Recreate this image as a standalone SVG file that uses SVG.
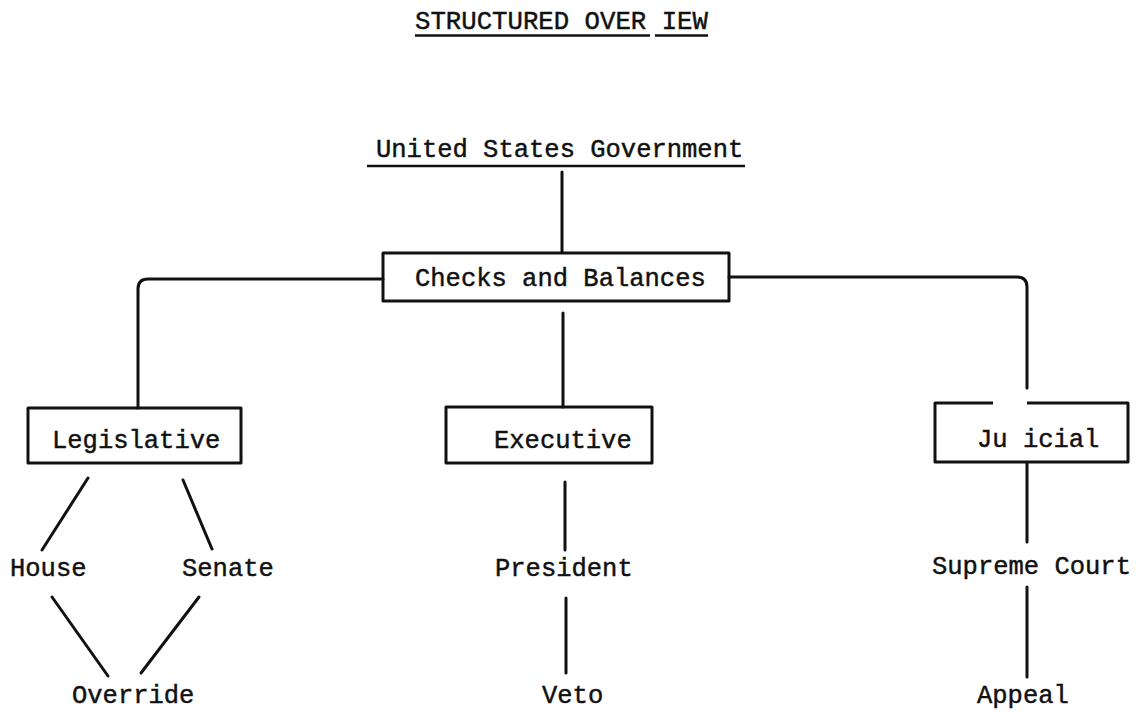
<svg xmlns="http://www.w3.org/2000/svg" width="1136" height="711" viewBox="0 0 1136 711">
  <style>
    .t { font-family: "Liberation Mono", "DejaVu Sans Mono", monospace; font-size: 25.5px; fill: #111; stroke: #111; stroke-width: 0.45; }
    .box { fill: none; stroke: #111; stroke-width: 3; stroke-linejoin: round; }
    .ln { fill: none; stroke: #111; stroke-width: 3; stroke-linecap: round; stroke-linejoin: round; }
    .ul { fill: none; stroke: #111; stroke-width: 2.5; }
  </style>
  <rect width="1136" height="711" fill="#fff"/>

  <!-- page heading -->
  <g id="heading">
    <text class="t" x="415" y="29" style="font-size:25.7px">STRUCTURED OVER IEW</text>
    <path class="ul" d="M415 35.5 H650 M655 35.5 H708"/>
  </g>

  <!-- connectors -->
  <g id="connectors">
    <path class="ln" d="M562 172 V252"/>
    <path class="ln" d="M383 279 H148 Q138 279 138 289 V408"/>
    <path class="ln" d="M729 277 H1017 Q1027 277 1027 287 V388"/>
    <path class="ln" d="M563 313 V407"/>
    <path class="ln" d="M88 478 L42 550"/>
    <path class="ln" d="M183 480 L212 549"/>
    <path class="ln" d="M52 597 L108 676"/>
    <path class="ln" d="M199 597 L141 673"/>
    <path class="ln" d="M565 482 V550"/>
    <path class="ln" d="M566 598 V673"/>
    <path class="ln" d="M1027 463 V542"/>
    <path class="ln" d="M1027 587 V677"/>
  </g>

  <g id="us-government">
    <text class="t" x="376" y="157">United States Government</text>
    <path class="ul" d="M367 166 H745"/>
  </g>

  <g id="checks-and-balances">
    <rect class="box" x="383" y="253" width="346" height="48"/>
    <text class="t" x="415" y="286">Checks and Balances</text>
  </g>

  <g id="legislative">
    <rect class="box" x="28" y="408" width="213" height="55"/>
    <text class="t" x="52" y="448">Legislative</text>
  </g>

  <g id="executive">
    <rect class="box" x="446" y="407" width="206" height="56"/>
    <text class="t" x="494" y="448">Executive</text>
  </g>

  <g id="judicial">
    <path class="box" d="M993 403 H935 V462 H1128 V403 H1027"/>
    <text class="t" x="977" y="447">Ju icial</text>
  </g>

  <g id="house"><text class="t" x="10" y="576">House</text></g>
  <g id="senate"><text class="t" x="182" y="576">Senate</text></g>
  <g id="override"><text class="t" x="72" y="703">Override</text></g>
  <g id="president"><text class="t" x="495" y="576">President</text></g>
  <g id="veto"><text class="t" x="542" y="703">Veto</text></g>
  <g id="supreme-court"><text class="t" x="932" y="574">Supreme Court</text></g>
  <g id="appeal"><text class="t" x="977" y="703">Appeal</text></g>
</svg>
